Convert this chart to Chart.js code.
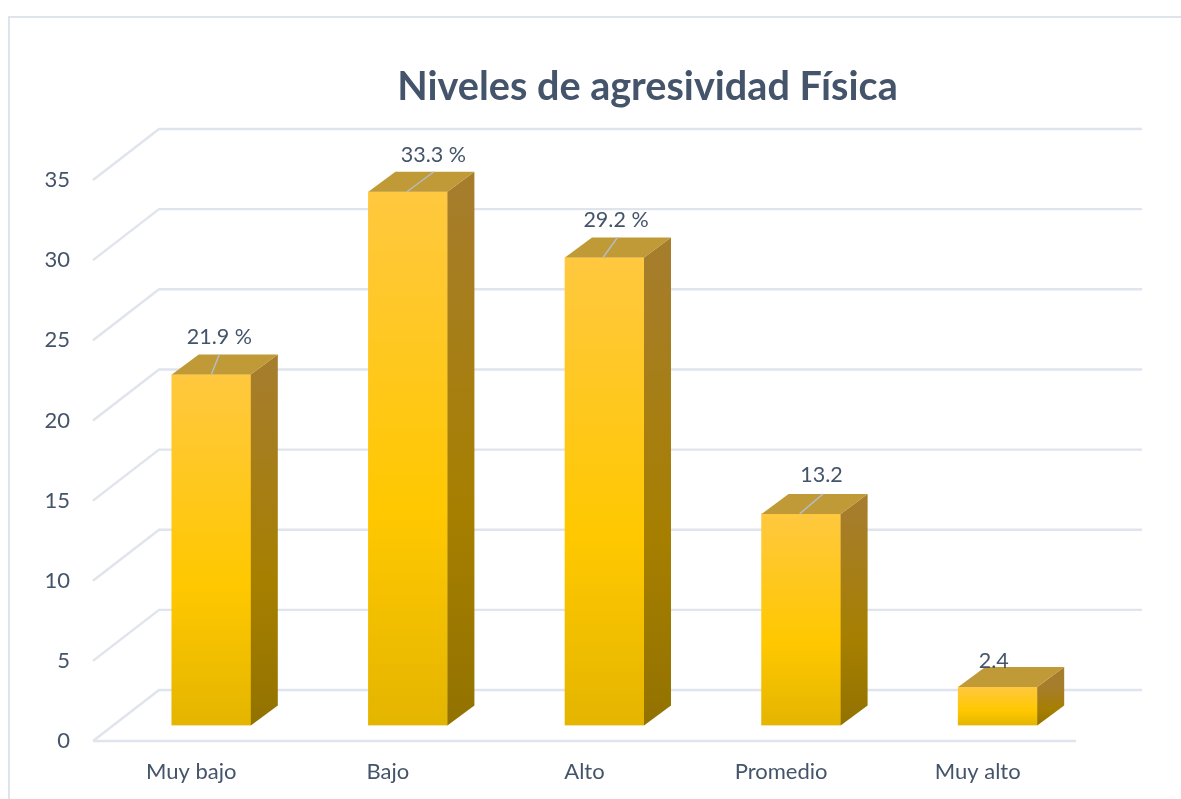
<!DOCTYPE html>
<html>
<head>
<meta charset="utf-8">
<script src="https://cdn.jsdelivr.net/npm/chart.js@4/dist/chart.umd.js"></script>
<style>html,body{margin:0;padding:0;background:#fff;overflow:hidden}#wrap{width:1181px;height:799px}</style>
</head>
<body>
<div id="wrap"><canvas id="c" width="1181" height="799"></canvas></div>
<script>
const categories = ["Muy bajo", "Bajo", "Alto", "Promedio", "Muy alto"];
const values = [21.9, 33.3, 29.2, 13.2, 2.4];
const valueLabels = ["21.9 %", "33.3 %", "29.2 %", "13.2", "2.4"];
const titleText = "Niveles de agresividad Física";

const FONT = "Lato, 'Open Sans', sans-serif";
const TEXT = "#44546a";
const GRID = "#e0e4ec";
// 3D geometry
const wall = {dx: 66, dy: -51};
const inset = {dx: 20, dy: -15.5};
const depth = {dx: 27, dy: -20};
// nudges of label centre and leader end relative to the bar's front top centre
const labelNudge = [[8,-37.5],[25.5,-37],[11.5,-37.5],[20.5,-38.5],[-4,-25.5]];
const leaderEnd = [[8,-20],[26,-20],[13,-20],[22,-20],null];
const leaderStart = [0,-1,-1.5,-1.5,0];

function vGrad(ctx, y0, y1, stops){
  const g = ctx.createLinearGradient(0,y0,0,y1);
  stops.forEach(s=>g.addColorStop(s[0],s[1]));
  return g;
}
const frontStops = [[0,"#ffc83f"],[0.6,"#ffc800"],[1,"#e4b500"]];
const sideStops = [[0,"#a67d2b"],[0.6,"#a67f00"],[1,"#927200"]];

const scene = {
  id:"scene",
  afterLayout(chart){
    // centre title over the plot wall instead of the whole canvas
    const t = chart.titleBlock;
    if(t){ t.left = 114; t.right = 1181; }
  },
  beforeDraw(chart){
    const c = chart.ctx;
    c.save();
    c.fillStyle="#fff"; c.fillRect(0,0,chart.width,chart.height);
    c.strokeStyle="#dfe3ec"; c.lineWidth=2;
    c.beginPath(); c.moveTo(9,799); c.lineTo(9,17); c.lineTo(1181,17); c.stroke();
    c.restore();
  },
  beforeDatasetsDraw(chart){
    const c = chart.ctx, x = chart.scales.x, y = chart.scales.y;
    c.save();
    c.strokeStyle=GRID; c.lineCap="butt"; c.lineJoin="round";
    y.ticks.forEach(t=>{
      const py = y.getPixelForValue(t.value);
      c.lineWidth=2.4;
      c.beginPath();
      c.moveTo(x.left,py);
      c.lineTo(x.left+wall.dx,py+wall.dy);
      c.lineTo(x.right+wall.dx,py+wall.dy);
      c.stroke();
    });
    const p0 = y.getPixelForValue(0);
    c.lineWidth=2.4;
    c.beginPath(); c.moveTo(x.left,p0); c.lineTo(x.right,p0); c.stroke();
    c.restore();
    c.save();
    c.translate(inset.dx,inset.dy);
  },
  afterDatasetsDraw(chart){
    const c = chart.ctx, y = chart.scales.y;
    const bars = chart.getDatasetMeta(0).data;
    const base = y.getPixelForValue(0);
    bars.forEach((b)=>{
      const half = b.width/2, l = b.x-half, r = b.x+half, top = b.y;
      // side face
      c.fillStyle = vGrad(c, top, base, sideStops);
      c.beginPath();
      c.moveTo(r,top); c.lineTo(r+depth.dx,top+depth.dy);
      c.lineTo(r+depth.dx,base+depth.dy); c.lineTo(r,base); c.closePath(); c.fill();
      // top face
      c.fillStyle = "#bf9a37";
      c.beginPath();
      c.moveTo(l,top); c.lineTo(l+depth.dx,top+depth.dy);
      c.lineTo(r+depth.dx,top+depth.dy); c.lineTo(r,top); c.closePath(); c.fill();
    });
    c.restore();
    // value labels with leader lines
    c.save();
    bars.forEach((b,i)=>{
      const ax = b.x+inset.dx, ay = b.y+inset.dy;
      if(leaderEnd[i]){
        c.strokeStyle="#b4bcc4"; c.lineWidth=1.5;
        c.beginPath();
        c.moveTo(ax+leaderStart[i],ay);
        c.lineTo(ax+leaderEnd[i][0],ay+leaderEnd[i][1]);
        c.stroke();
      }
      c.fillStyle=TEXT; c.font="21.5px "+FONT;
      c.textAlign="center"; c.textBaseline="middle";
      c.fillText(valueLabels[i],ax+labelNudge[i][0],ay+labelNudge[i][1]);
    });
    c.restore();
  }
};

new Chart(document.getElementById("c"),{
  type:"bar",
  data:{labels:categories,datasets:[{
    data:values,
    barThickness:79,
    borderWidth:0,
    backgroundColor(ctx){
      const ch = ctx.chart;
      if(!ch.chartArea || ctx.parsed===undefined || !ctx.parsed) return "#ffc800";
      const y = ch.scales.y;
      return vGrad(ch.ctx, y.getPixelForValue(ctx.parsed.y), y.getPixelForValue(0), frontStops);
    }
  }]},
  plugins:[scene],
  options:{
    responsive:false,
    animation:false,
    layout:{padding:{right:105}},
    plugins:{
      legend:{display:false},
      tooltip:{enabled:false},
      title:{
        display:true,
        text:titleText,
        color:TEXT,
        font:{family:FONT,size:39.6,weight:"bold",lineHeight:1.2},
        padding:{top:63.5,bottom:69}
      }
    },
    scales:{
      x:{
        grid:{display:false,drawTicks:false},
        border:{display:false},
        ticks:{color:TEXT,font:{family:FONT,size:22},padding:18,maxRotation:0},
        afterFit(s){s.height=58;}
      },
      y:{
        min:0,max:35,
        grid:{display:false,drawTicks:false},
        border:{display:false},
        ticks:{stepSize:5,color:TEXT,font:{family:FONT,size:22},padding:23},
        afterFit(s){s.width=93;}
      }
    }
  }
});
</script>
</body>
</html>
